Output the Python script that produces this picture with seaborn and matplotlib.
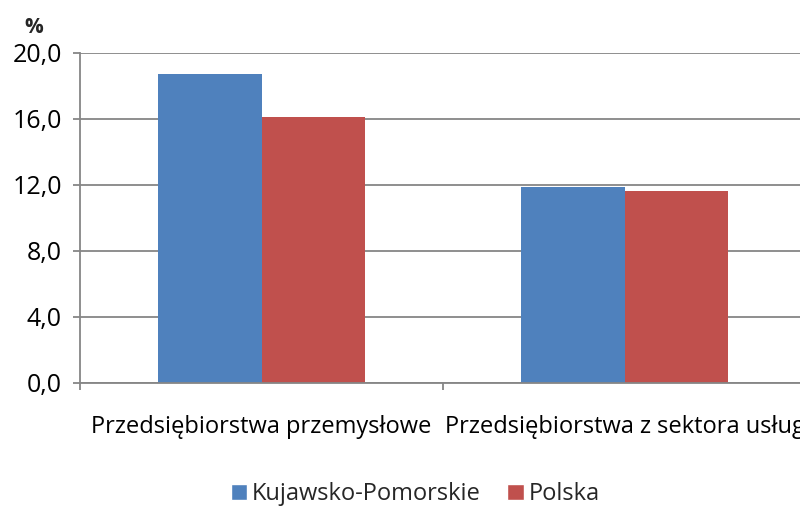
import matplotlib
matplotlib.use("Agg")
import matplotlib.pyplot as plt
import pandas as pd
import seaborn as sns
from matplotlib.patches import Patch
from matplotlib.ticker import FuncFormatter, FixedLocator

categories = ["Przedsiębiorstwa przemysłowe", "Przedsiębiorstwa z sektora usług"]
regions = ["Kujawsko-Pomorskie", "Polska"]
kujawsko = [18.7, 11.9]
polska = [16.1, 11.6]
colors = ["#4F81BD", "#C0504D"]

df = pd.DataFrame({
    "kategoria": categories * 2,
    "region": [regions[0]] * 2 + [regions[1]] * 2,
    "wartosc": kujawsko + polska,
})

sns.set_theme(style="white")
plt.rcParams["font.family"] = ["Open Sans", "DejaVu Sans"]

fig = plt.figure(figsize=(8, 5.09), dpi=100)
ax = fig.add_axes([0.1, 0.248, 0.9075, 0.648])

sns.barplot(
    data=df, x="kategoria", y="wartosc", hue="region",
    palette=colors, width=0.57, gap=0, saturation=1,
    linewidth=0, ax=ax, legend=False,
)

ax.set_xlim(-0.5, 1.5)
ax.set_ylim(0, 20)
ax.set_yticks([0, 4, 8, 12, 16, 20])
ax.yaxis.set_major_formatter(FuncFormatter(lambda v, _: f"{v:.1f}".replace(".", ",")))
ax.yaxis.grid(True, color="#868686", linewidth=1.3)
ax.set_axisbelow(True)
ax.set_xlabel("")
ax.set_ylabel("")

for s in ["top", "right"]:
    ax.spines[s].set_visible(False)
for s in ["left", "bottom"]:
    ax.spines[s].set_color("#868686")
    ax.spines[s].set_linewidth(1.3)

ax.tick_params(axis="y", left=True, length=5, width=1.3, color="#868686",
               labelsize=18, pad=8, labelcolor="black")
ax.tick_params(axis="x", which="major", length=0, labelsize=17, pad=23, labelcolor="black")
ax.xaxis.set_minor_locator(FixedLocator([-0.5, 0.5, 1.5]))
ax.tick_params(axis="x", which="minor", bottom=True, length=5, width=1.3, color="#868686")

fig.text(0.031, 0.945, "%", fontsize=15, fontweight="bold", ha="left", va="center")

handles = [Patch(facecolor=c, label=r) for c, r in zip(colors, regions)]
fig.legend(handles=handles, loc="lower center", bbox_to_anchor=(0.519, -0.036),
           ncol=2, frameon=False, fontsize=17, handlelength=0.7, handleheight=0.7,
           handletextpad=0.2, columnspacing=1.1)

fig.savefig("out.png", dpi=100)
